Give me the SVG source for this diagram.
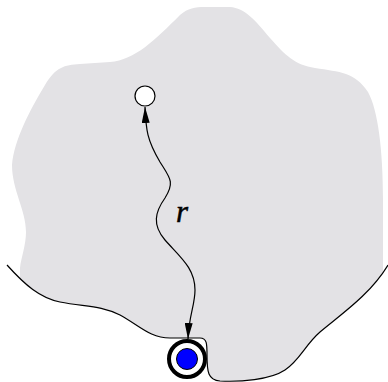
<svg xmlns="http://www.w3.org/2000/svg" width="388" height="382" viewBox="0 0 388 382">
<style>
.region{fill:#e3e2e5;stroke:none}
.boundary{fill:none;stroke:#000;stroke-width:1.2}
.path{fill:none;stroke:#000;stroke-width:1.2}
.label{font-family:"Liberation Serif",serif;font-style:italic;font-size:31px;fill:#000;stroke:#000;stroke-width:0.5}
</style>
<defs>
<clipPath id="above">
<path d="M0,258 L7,265 C25,285 40,298 60,302 C85,307 100,305 120,315 C140,326 150,338 170,338 L200,338 C207,338 207,344 207,355 C207,372 208,380 220,381 C240,382 270,380 285,370 C300,360 305,345 320,332 C340,315 370,295 388,265 L388,0 L0,0 Z"/>
</clipPath>
<marker id="arr" viewBox="0 0 16 8" refX="16" refY="4" markerWidth="16" markerHeight="8" markerUnits="userSpaceOnUse" orient="auto-start-reverse">
<path d="M0,0 L16,4 L0,8 Z" fill="#000"/>
</marker>
</defs>
<g id="region">
<path class="region" clip-path="url(#above)" d="M20,400 L20,268 C21,258 26,245 26,232 C26,210 12,190 12,165 C14,140 30,110 45,85 C56,67 64,65 80,64 L110,62 C135,60 155,40 180,15 C188,8 195,7 205,7 L230,7 C245,8 255,20 270,38 C285,55 295,65 315,68 C340,72 355,72 368,92 C378,110 383,150 383,200 L383,400 Z"/>
<path class="boundary" d="M7,265 C25,285 40,298 60,302 C85,307 100,305 120,315 C140,326 150,338 170,338 L200,338 C207,338 207,344 207,355 C207,372 208,380 220,381 C240,382 270,380 285,370 C300,360 305,345 320,332 C340,315 370,295 388,265"/>
</g>
<g id="connectors">
<path class="path" marker-start="url(#arr)" marker-end="url(#arr)" d="M145,107 C146,130 147,140 160,162 C170,178 175,182 165,198 C155,212 152,225 165,240 C180,257 195,268 195,290 C195,305 189,315 188,339"/>
<text class="label" x="176" y="222">r</text>
</g>
<g id="start">
<circle cx="145" cy="96" r="10" fill="#fff" stroke="#000" stroke-width="1.2"/>
</g>
<g id="target">
<circle cx="187" cy="359" r="18" fill="#fff" stroke="#000" stroke-width="4"/>
<circle cx="187" cy="359" r="10.5" fill="#0000ff" stroke="#000" stroke-width="1"/>
</g>
</svg>
